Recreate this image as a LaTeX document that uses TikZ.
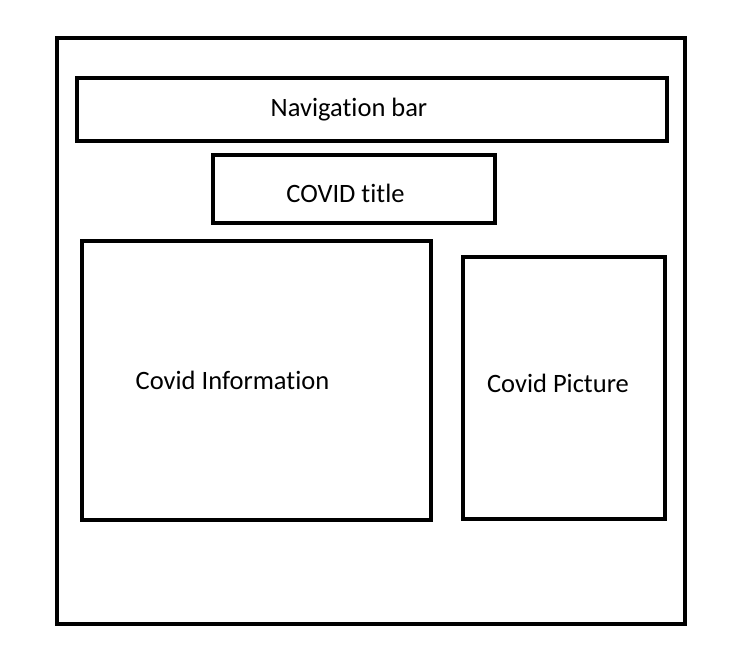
\documentclass[tikz,border=0pt]{standalone}
\usepackage{fontspec}
\setmainfont[Ligatures={NoCommon}]{Carlito}
\begin{document}
\begin{tikzpicture}[x=1pt, y=1pt]
  \useasboundingbox (0,0) rectangle (739,-648);
  \tikzstyle{every node}=[rectangle, draw=black, line width=3.5pt, inner sep=0pt, font=\fontsize{26.5}{30}\selectfont]
    \node[minimum width=628pt, minimum height=586pt] (Page) at (371,-331) {};
    \node[minimum width=590pt, minimum height=63pt] (Nav) at (372,-109.5) {};
    \node[minimum width=282pt, minimum height=68pt] (Title) at (354,-189) {};
    \node[minimum width=349pt, minimum height=279pt] (Info) at (256.5,-380.5) {};
    \node[minimum width=202pt, minimum height=262pt] (Pic) at (564,-388) {};
    \node[draw=none] (NavText) at ([xshift=-23pt]Nav.center) {Navigation bar};
    \node[draw=none] (TitleText) at ([xshift=-8.5pt, yshift=-4pt]Title.center) {COVID title};
    \node[draw=none] (InfoText) at ([xshift=-24pt]Info.center) {Covid Information};
    \node[draw=none] (PicText) at ([xshift=-6pt, yshift=5pt]Pic.center) {Covid Picture};
  \end{tikzpicture}
\end{document}
